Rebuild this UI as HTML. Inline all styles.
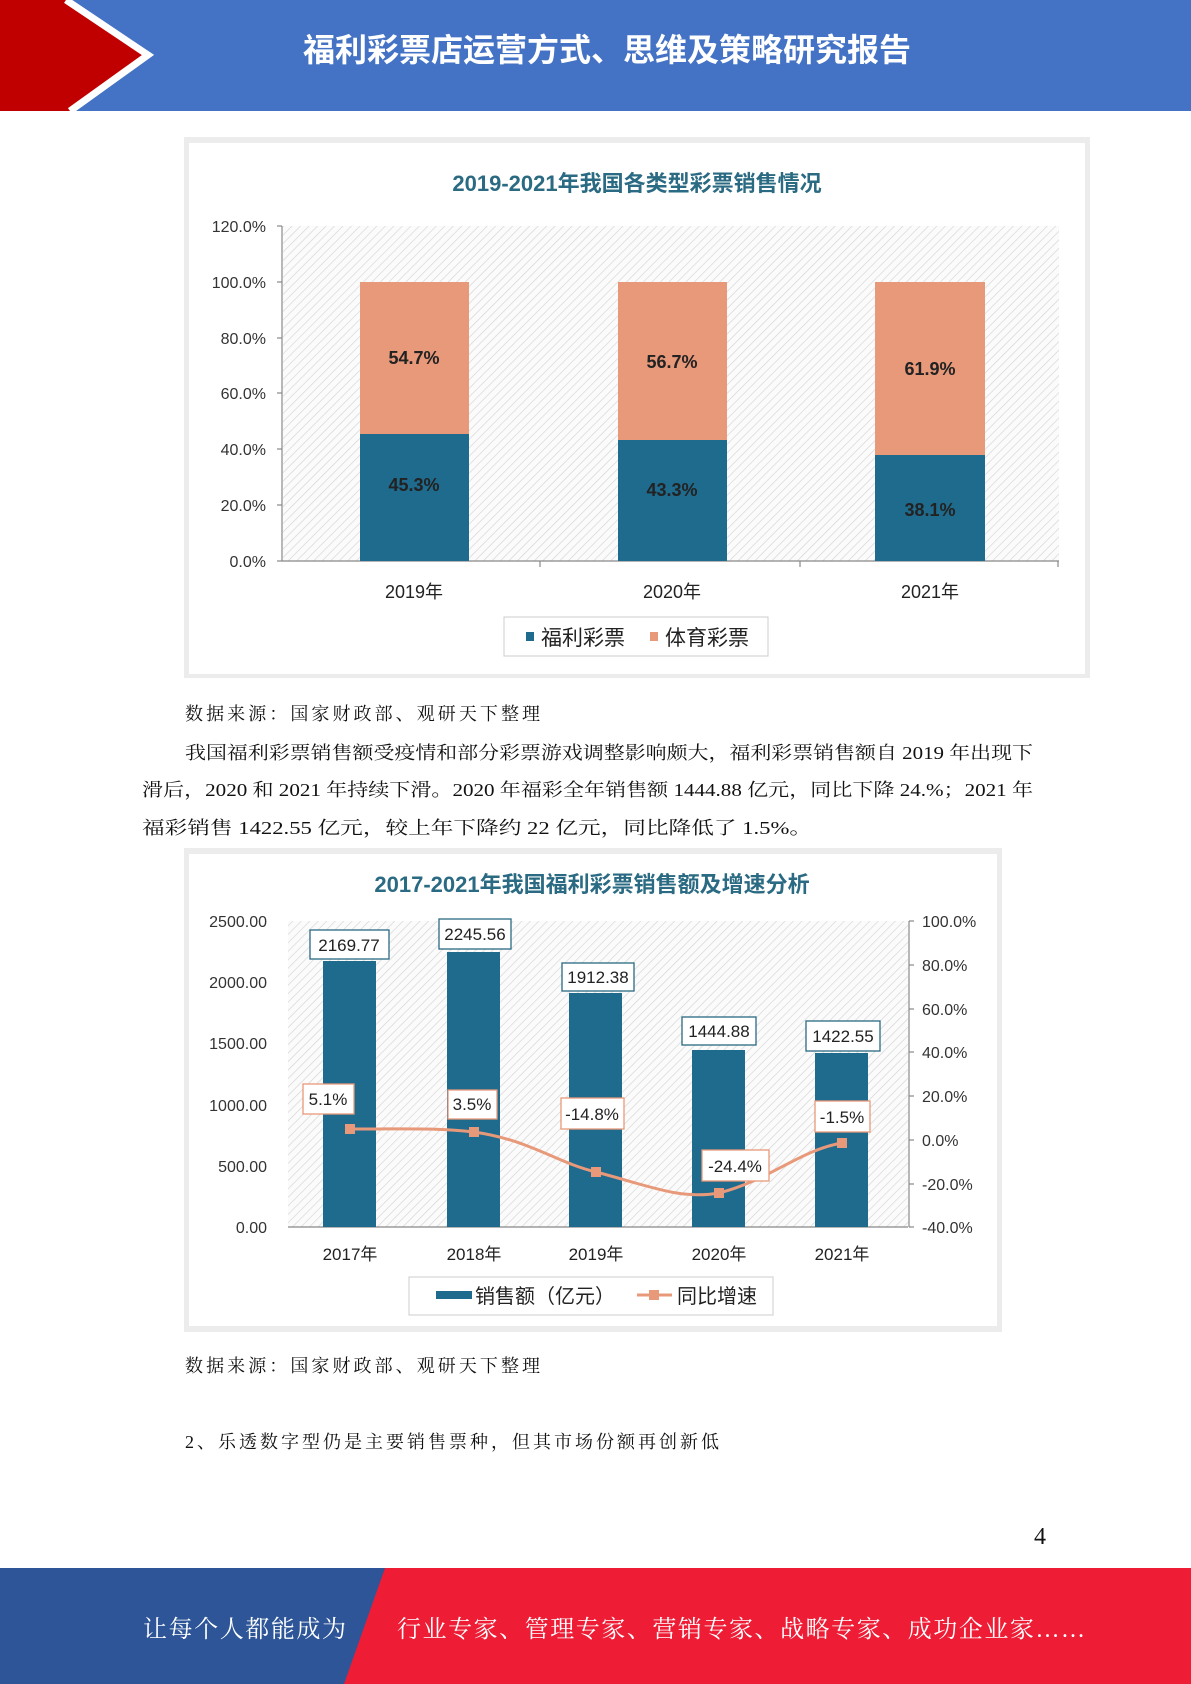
<!DOCTYPE html>
<html><head><meta charset="utf-8"><style>
html,body{margin:0;padding:0;background:#fff}
svg{display:block}
.s{font-family:"Liberation Serif","Noto Serif CJK SC","Noto Sans CJK SC",serif;fill:#111}
.a{font-family:"Liberation Sans","Noto Sans CJK SC",sans-serif}
</style></head><body>
<svg width="1191" height="1684" viewBox="0 0 1191 1684" xmlns="http://www.w3.org/2000/svg">
<defs>
<pattern id="h" width="6" height="6" patternUnits="userSpaceOnUse" patternTransform="rotate(45)">
<rect width="6" height="6" fill="#fbfbfb"/><line x1="0" y1="0" x2="0" y2="6" stroke="#d4d4d4" stroke-width="1.3"/>
</pattern>
</defs>
<!-- header -->
<rect x="0" y="0" width="1191" height="111" fill="#4472C4"/>
<polygon points="0,0 72,0 148,55 72,111 0,111" fill="#C00000"/>
<polyline points="66,0 148,55 70,111" fill="none" stroke="#fff" stroke-width="7"/>
<text x="607" y="61" text-anchor="middle" class="a" font-size="32" font-weight="bold" fill="#fff">福利彩票店运营方式、思维及策略研究报告</text>

<!-- chart 1 -->
<rect x="184" y="137" width="906" height="541" fill="#ececec"/>
<rect x="189" y="143" width="896" height="531" fill="#fff"/>
<text x="637" y="191" text-anchor="middle" class="a" font-size="22" font-weight="bold" fill="#2a6a82">2019-2021年我国各类型彩票销售情况</text>
<rect x="283" y="226" width="776" height="335" fill="url(#h)"/>
<g class="a" font-size="16" fill="#333" text-anchor="end">
<text x="266" y="232">120.0%</text><text x="266" y="288">100.0%</text><text x="266" y="344">80.0%</text>
<text x="266" y="399">60.0%</text><text x="266" y="455">40.0%</text><text x="266" y="511">20.0%</text><text x="266" y="567">0.0%</text>
</g>
<g stroke="#888" stroke-width="1.2">
<line x1="282" y1="226" x2="282" y2="561"/><line x1="282" y1="561" x2="1059" y2="561"/>
<line x1="277" y1="226" x2="282" y2="226"/><line x1="277" y1="282" x2="282" y2="282"/><line x1="277" y1="338" x2="282" y2="338"/>
<line x1="277" y1="393" x2="282" y2="393"/><line x1="277" y1="449" x2="282" y2="449"/><line x1="277" y1="505" x2="282" y2="505"/><line x1="277" y1="561" x2="282" y2="561"/>
<line x1="540" y1="561" x2="540" y2="567"/><line x1="800" y1="561" x2="800" y2="567"/><line x1="1058" y1="561" x2="1058" y2="567"/>
</g>
<rect x="360" y="282" width="109" height="152" fill="#E8997A"/><rect x="360" y="434" width="109" height="127" fill="#1F6B8E"/>
<rect x="618" y="282" width="109" height="158" fill="#E8997A"/><rect x="618" y="440" width="109" height="121" fill="#1F6B8E"/>
<rect x="875" y="282" width="110" height="173" fill="#E8997A"/><rect x="875" y="455" width="110" height="106" fill="#1F6B8E"/>
<g class="a" font-size="18" font-weight="bold" fill="#222" text-anchor="middle">
<text x="414" y="364">54.7%</text><text x="672" y="368">56.7%</text><text x="930" y="375">61.9%</text>
<text x="414" y="491">45.3%</text><text x="672" y="496">43.3%</text><text x="930" y="516">38.1%</text>
</g>
<g class="a" font-size="18" fill="#222" text-anchor="middle">
<text x="414" y="598">2019年</text><text x="672" y="598">2020年</text><text x="930" y="598">2021年</text>
</g>
<rect x="504" y="617" width="264" height="39" fill="#fff" stroke="#ccc"/>
<rect x="526" y="632" width="8" height="9" fill="#1F6B8E"/>
<text x="541" y="645" class="a" font-size="21" fill="#222">福利彩票</text>
<rect x="650" y="632" width="8" height="9" fill="#E8997A"/>
<text x="665" y="645" class="a" font-size="21" fill="#222">体育彩票</text>

<!-- text -->
<text x="185" y="720" class="s" font-size="18" textLength="355">数据来源：国家财政部、观研天下整理</text>
<text x="185" y="759" class="s" font-size="18" textLength="848" lengthAdjust="spacingAndGlyphs">我国福利彩票销售额受疫情和部分彩票游戏调整影响颇大，福利彩票销售额自 2019 年出现下</text>
<text x="142" y="796" class="s" font-size="18" textLength="891" lengthAdjust="spacingAndGlyphs">滑后，2020 和 2021 年持续下滑。2020 年福彩全年销售额 1444.88 亿元，同比下降 24.%；2021 年</text>
<text x="142" y="834" class="s" font-size="18" textLength="670" lengthAdjust="spacingAndGlyphs">福彩销售 1422.55 亿元，较上年下降约 22 亿元，同比降低了 1.5%。</text>

<!-- chart 2 -->
<rect x="184" y="848" width="818" height="484" fill="#ececec"/>
<rect x="189" y="854" width="808" height="472" fill="#fff"/>
<text x="592" y="892" text-anchor="middle" class="a" font-size="22" font-weight="bold" fill="#2a6a82">2017-2021年我国福利彩票销售额及增速分析</text>
<rect x="288" y="921" width="620" height="306" fill="url(#h)"/>
<g class="a" font-size="16" fill="#333" text-anchor="end">
<text x="267" y="927">2500.00</text><text x="267" y="988">2000.00</text><text x="267" y="1049">1500.00</text>
<text x="267" y="1111">1000.00</text><text x="267" y="1172">500.00</text><text x="267" y="1233">0.00</text>
</g>
<g class="a" font-size="16" fill="#333">
<text x="922" y="927">100.0%</text><text x="922" y="971">80.0%</text><text x="922" y="1015">60.0%</text><text x="922" y="1058">40.0%</text>
<text x="922" y="1102">20.0%</text><text x="922" y="1146">0.0%</text><text x="922" y="1190">-20.0%</text><text x="922" y="1233">-40.0%</text>
</g>
<g stroke="#888" stroke-width="1.2">
<line x1="288" y1="1227" x2="908" y2="1227"/><line x1="909" y1="921" x2="909" y2="1227"/>
<line x1="909" y1="921" x2="914" y2="921"/><line x1="909" y1="965" x2="914" y2="965"/><line x1="909" y1="1009" x2="914" y2="1009"/><line x1="909" y1="1052" x2="914" y2="1052"/>
<line x1="909" y1="1096" x2="914" y2="1096"/><line x1="909" y1="1140" x2="914" y2="1140"/><line x1="909" y1="1184" x2="914" y2="1184"/><line x1="909" y1="1227" x2="914" y2="1227"/>
</g>
<g fill="#1F6B8E">
<rect x="323" y="961" width="53" height="266"/><rect x="447" y="952" width="53" height="275"/>
<rect x="569" y="993" width="53" height="234"/><rect x="692" y="1050" width="53" height="177"/><rect x="815" y="1053" width="53" height="174"/>
</g>
<path d="M350,1129 C420,1129 440,1128 474,1132 C530,1140 555,1162 596,1172 C650,1186 680,1200 719,1193 C770,1180 800,1150 842,1143" fill="none" stroke="#E8997A" stroke-width="3"/>
<g fill="#E8997A">
<rect x="345" y="1124" width="10" height="10"/><rect x="469" y="1127" width="10" height="10"/><rect x="591" y="1167" width="10" height="10"/>
<rect x="714" y="1188" width="10" height="10"/><rect x="837" y="1138" width="10" height="10"/>
</g>
<g fill="#fff" stroke="#2a6a82" stroke-width="1.3">
<rect x="310" y="930" width="79" height="29"/><rect x="439" y="919" width="72" height="30"/><rect x="562" y="963" width="72" height="28"/>
<rect x="682" y="1017" width="74" height="28"/><rect x="806" y="1021" width="74" height="30"/>
</g>
<g fill="#fff" stroke="#E8997A" stroke-width="1.3">
<rect x="303" y="1084" width="51" height="30"/><rect x="448" y="1090" width="49" height="29"/><rect x="561" y="1098" width="63" height="31"/>
<rect x="702" y="1150" width="67" height="31"/><rect x="815" y="1101" width="55" height="31"/>
</g>
<g class="a" font-size="17" fill="#222" text-anchor="middle">
<text x="349" y="951">2169.77</text><text x="475" y="940">2245.56</text><text x="598" y="983">1912.38</text>
<text x="719" y="1037">1444.88</text><text x="843" y="1042">1422.55</text>
<text x="328" y="1105">5.1%</text><text x="472" y="1110">3.5%</text><text x="592" y="1120">-14.8%</text>
<text x="735" y="1172">-24.4%</text><text x="842" y="1123">-1.5%</text>
</g>
<g class="a" font-size="17" fill="#222" text-anchor="middle">
<text x="350" y="1260">2017年</text><text x="474" y="1260">2018年</text><text x="596" y="1260">2019年</text><text x="719" y="1260">2020年</text><text x="842" y="1260">2021年</text>
</g>
<rect x="409" y="1277" width="364" height="38" fill="#fff" stroke="#ccc"/>
<rect x="436" y="1291" width="36" height="8" fill="#1F6B8E"/>
<text x="475" y="1303" class="a" font-size="20" fill="#222">销售额（亿元）</text>
<line x1="637" y1="1295" x2="672" y2="1295" stroke="#E8997A" stroke-width="3"/>
<rect x="649" y="1290" width="10" height="10" fill="#E8997A"/>
<text x="677" y="1303" class="a" font-size="20" fill="#222">同比增速</text>

<text x="185" y="1372" class="s" font-size="18" textLength="355">数据来源：国家财政部、观研天下整理</text>
<text x="185" y="1448" class="s" font-size="18" textLength="534">2、乐透数字型仍是主要销售票种，但其市场份额再创新低</text>
<text x="1040" y="1544" class="s" font-size="24" text-anchor="middle">4</text>

<!-- footer -->
<rect x="0" y="1568" width="1191" height="116" fill="#EE1C35"/>
<polygon points="0,1568 385,1568 344,1684 0,1684" fill="#2E5597"/>
<text x="143" y="1637" class="s" font-size="24" style="fill:#fff" textLength="203">让每个人都能成为</text>
<text x="397" y="1637" class="s" font-size="24" style="fill:#fff" textLength="688">行业专家、管理专家、营销专家、战略专家、成功企业家……</text>
</svg>
</body></html>
